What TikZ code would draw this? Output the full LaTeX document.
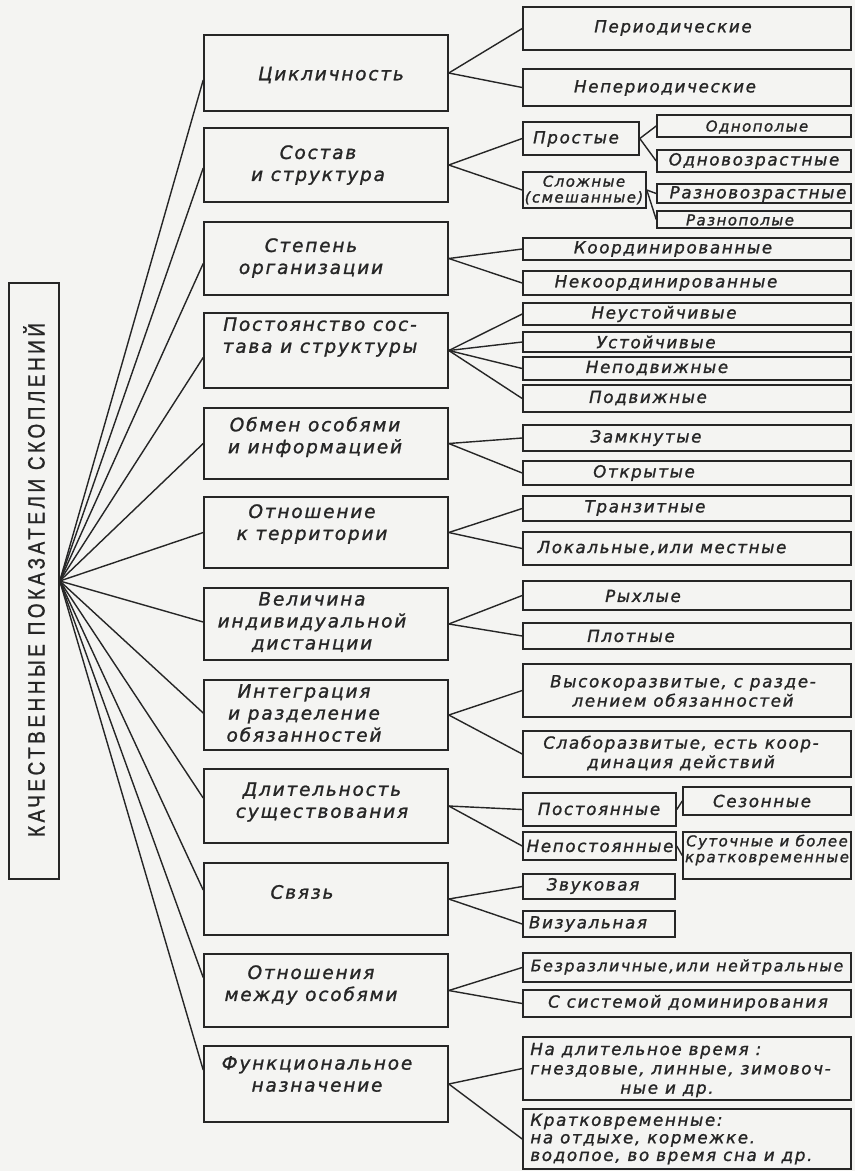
\documentclass[tikz,border=0pt]{standalone}
\usepackage{graphicx}
\usepackage{fontspec}
\setmainfont{DejaVu Sans}
\newfontfamily\handfont[LetterSpace=10,FakeBold=1.3]{DejaVu Sans}
\newfontfamily\capsfont[LetterSpace=15,FakeStretch=0.8,FakeBold=1]{Liberation Sans}
\usetikzlibrary{calc,fit}
\definecolor{ink}{RGB}{38,38,38}
\definecolor{paper}{RGB}{244,244,242}

\begin{document}
\begin{tikzpicture}[x=0.02cm,y=-0.02cm,
  bx/.style={draw=ink,line width=0.9pt,inner sep=0pt},
  ln/.style={draw=ink,line width=0.8pt},
  big/.style={font=\handfont\itshape\fontsize{10.5}{12.5}\selectfont,text=ink,align=center,inner sep=0pt},
  sm/.style={font=\handfont\itshape\fontsize{9.5}{11}\selectfont,text=ink,align=center,inner sep=0pt},
  tiny/.style={font=\handfont\itshape\fontsize{8.5}{9}\selectfont,text=ink,align=center,inner sep=0pt}]
  \fill[paper] (0,0) rectangle (855,1171);

  % root box
  \node[bx,fit={(9,283) (59,879)}] (root) {};
  \node[text=ink,rotate=90,inner sep=0pt] (title) at (34,580)
    {\resizebox{10.28cm}{!}{\capsfont КАЧЕСТВЕННЫЕ ПОКАЗАТЕЛИ СКОПЛЕНИЙ}};
  \coordinate (hub) at (root.east);

  % indicators
  \node[bx,fit={(204,35) (448,111)}] (c1) {};
  \node[bx,fit={(204,128) (448,202)}] (c2) {};
  \node[bx,fit={(204,222) (448,295)}] (c3) {};
  \node[bx,fit={(204,313) (448,388)}] (c4) {};
  \node[bx,fit={(204,408) (448,479)}] (c5) {};
  \node[bx,fit={(204,497) (448,568)}] (c6) {};
  \node[bx,fit={(204,588) (448,660)}] (c7) {};
  \node[bx,fit={(204,680) (448,750)}] (c8) {};
  \node[bx,fit={(204,769) (448,843)}] (c9) {};
  \node[bx,fit={(204,863) (448,935)}] (c10) {};
  \node[bx,fit={(204,954) (448,1027)}] (c11) {};
  \node[bx,fit={(204,1046) (448,1122)}] (c12) {};

  \node[big] (lc1) at (331,75) {Цикличность};
  \node[big] (lc2) at (318,165) {Состав\\и структура};
  \node[big] (lc3) at (311,258) {Степень\\организации};
  \node[big] (lc4) at (320,337) {Постоянство сос-\\тава и структуры};
  \node[big] (lc5) at (315,437) {Обмен особями\\и информацией};
  \node[big] (lc6) at (312,524) {Отношение\\к территории};
  \node[big] (lc7) at (312,622) {Величина\\индивидуальной\\дистанции};
  \node[big] (lc8) at (304,713) {Интеграция\\и разделение\\обязанностей};
  \node[big] (lc9) at (322,802) {Длительность\\существования};
  \node[big] (lc10) at (302,892) {Связь};
  \node[big] (lc11) at (311,985) {Отношения\\между особями};
  \node[big] (lc12) at (317,1074) {Функциональное\\назначение};

  % kinds
  \node[bx,fit={(523,7) (851,50)}] (p1) {};
  \node[bx,fit={(523,69) (851,106)}] (p2) {};
  \node[bx,fit={(523,122) (639,155)}] (s1) {};
  \node[bx,fit={(523,172) (646,208)}] (s2) {};
  \node[bx,fit={(657,115) (851,137)}] (s11) {};
  \node[bx,fit={(657,150) (851,172)}] (s12) {};
  \node[bx,fit={(657,184) (851,203)}] (s21) {};
  \node[bx,fit={(657,211) (851,228)}] (s22) {};
  \node[bx,fit={(523,238) (851,260)}] (k1) {};
  \node[bx,fit={(523,271) (851,295)}] (k2) {};
  \node[bx,fit={(523,303) (851,325)}] (u1) {};
  \node[bx,fit={(523,332) (851,352)}] (u2) {};
  \node[bx,fit={(523,357) (851,380)}] (u3) {};
  \node[bx,fit={(523,385) (851,412)}] (u4) {};
  \node[bx,fit={(523,425) (851,451)}] (z1) {};
  \node[bx,fit={(523,461) (851,485)}] (z2) {};
  \node[bx,fit={(523,496) (851,521)}] (t1) {};
  \node[bx,fit={(523,532) (851,565)}] (t2) {};
  \node[bx,fit={(523,581) (851,610)}] (r1) {};
  \node[bx,fit={(523,623) (851,649)}] (r2) {};
  \node[bx,fit={(523,664) (851,717)}] (v1) {};
  \node[bx,fit={(523,731) (851,777)}] (v2) {};
  \node[bx,fit={(523,793) (676,826)}] (d1) {};
  \node[bx,fit={(523,832) (676,860)}] (d2) {};
  \node[bx,fit={(683,787) (851,815)}] (d11) {};
  \node[bx,fit={(683,832) (851,879)}] (d21) {};
  \node[bx,fit={(523,874) (675,899)}] (sv1) {};
  \node[bx,fit={(523,911) (675,937)}] (sv2) {};
  \node[bx,fit={(523,953) (851,982)}] (o1) {};
  \node[bx,fit={(523,990) (851,1017)}] (o2) {};
  \node[bx,fit={(523,1037) (851,1100)}] (f1) {};
  \node[bx,fit={(523,1109) (851,1169)}] (f2) {};

  \node[sm] (lp1) at (673,28) {Периодические};
  \node[sm] (lp2) at (665,88) {Непериодические};
  \node[sm] (ls1) at (576,139) {Простые};
  \node[tiny] (ls2) at (584,190) {Сложные\\(смешанные)};
  \node[tiny] (ls11) at (757,127) {Однополые};
  \node[sm] (ls12) at (754,161) {Одновозрастные};
  \node[sm] (ls21) at (758,194) {Разновозрастные};
  \node[tiny] (ls22) at (740,220) {Разнополые};
  \node[sm] (lk1) at (673,249) {Координированные};
  \node[sm] (lk2) at (666,283) {Некоординированные};
  \node[sm] (lu1) at (664,314) {Неустойчивые};
  \node[sm] (lu2) at (656,342) {Устойчивые};
  \node[sm] (lu3) at (657,368) {Неподвижные};
  \node[sm] (lu4) at (648,398) {Подвижные};
  \node[sm] (lz1) at (646,438) {Замкнутые};
  \node[sm] (lz2) at (644,473) {Открытые};
  \node[sm] (lt1) at (645,508) {Транзитные};
  \node[sm] (lt2) at (662,548) {Локальные,или местные};
  \node[sm] (lr1) at (643,596) {Рыхлые};
  \node[sm] (lr2) at (631,636) {Плотные};
  \node[sm] (lv1) at (683,691) {Высокоразвитые, с разде-\\лением обязанностей};
  \node[sm] (lv2) at (681,753) {Слаборазвитые, есть коор-\\динация действий};
  \node[sm] (ld1) at (599,809) {Постоянные};
  \node[sm] (ld2) at (600,846) {Непостоянные};
  \node[sm] (ld11) at (762,801) {Сезонные};
  \node[tiny] (ld21) at (767,850) {Суточные и более\\кратковременные};
  \node[sm] (lsv1) at (593,886) {Звуковая};
  \node[sm] (lsv2) at (588,924) {Визуальная};
  \node[sm,font=\handfont\itshape\fontsize{9}{10}\selectfont] (lo1) at (687,967) {Безразличные,или нейтральные};
  \node[sm] (lo2) at (688,1003) {С системой доминирования};
  \node[sm,align=left,anchor=west] (lf1) at (530,1070)
    {На длительное время :\\гнездовые, линные, зимовоч-\\\hspace*{1.8cm}ные и др.};
  \node[sm,align=left,anchor=west,font=\handfont\itshape\fontsize{9.5}{10}\selectfont] (lf2) at (530,1139)
    {Кратковременные:\\на отдыхе, кормежке.\\водопое, во время сна и др.};

  % connectors
  \foreach \n/\d in {c1/7,c2/3,c3/5,c4/7,c5/0,c6/0,c7/-2,c8/-2,c9/-8,c10/-9,c11/-13,c12/-14}
    \draw[ln] (hub) -- ($(\n.west)+(0,\d)$);
  \foreach \a/\b in {c1/p1,c1/p2,c2/s1,c2/s2,c3/k1,c3/k2,c4/u1,c4/u2,c4/u3,c4/u4,
      c5/z1,c5/z2,c6/t1,c6/t2,c7/r1,c7/r2,c8/v1,c8/v2,c9/d1,c9/d2,c10/sv1,c10/sv2,
      c11/o1,c11/o2,c12/f1,c12/f2,s1/s11,s1/s12,s2/s21,s2/s22,d1/d11,d2/d21}
    \draw[ln] (\a.east) -- (\b.west);
\end{tikzpicture}
\end{document}
